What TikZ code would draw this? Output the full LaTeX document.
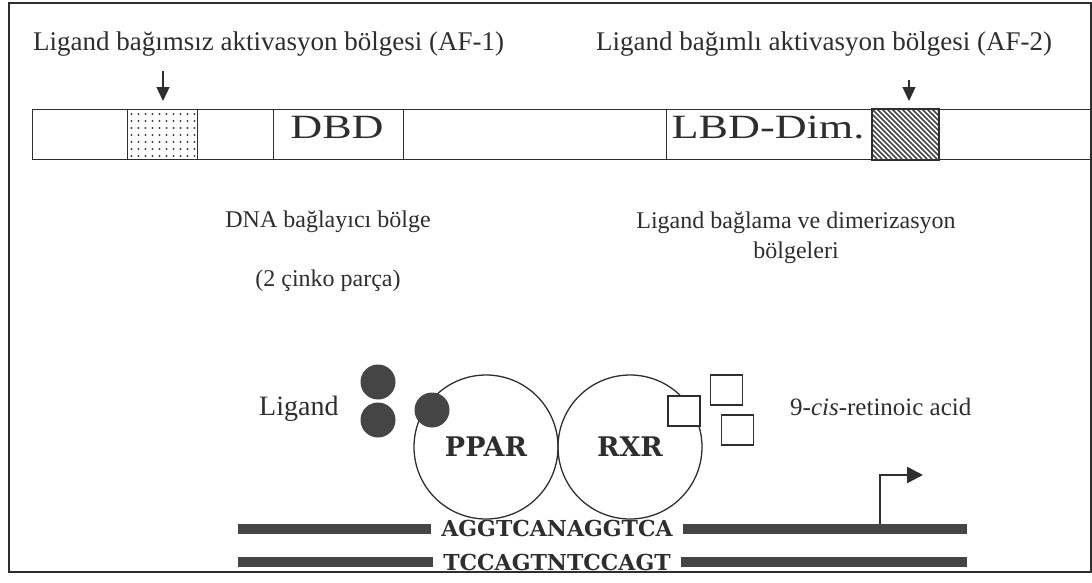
\documentclass[tikz,border=0pt]{standalone}
\usepackage{fontspec}
\setmainfont{Liberation Serif}
\newfontfamily\slab{DejaVu Serif}
\usepackage{graphicx}
\usetikzlibrary{arrows.meta}
\definecolor{ink}{HTML}{2E2E2E}
\definecolor{fillc}{HTML}{454545}
\begin{document}
\begin{tikzpicture}[x=1pt,y=-1pt,
  every node/.style={text=ink},
  toptext/.style={anchor=base west, inner sep=0pt, font=\fontsize{27}{30}\selectfont},
  midtext/.style={anchor=base, inner sep=0pt, font=\fontsize{24}{28}\selectfont},
  bigtext/.style={anchor=base, inner sep=0pt, font=\fontsize{34}{36}\selectfont},
  segbox/.style={draw=ink, line width=1.3pt, anchor=north west, inner sep=0pt, minimum height=50pt},
  downarrow/.style={draw=ink, line width=1.2pt, -{Triangle[length=14pt,width=13pt]}},
  ligdot/.style={circle, fill=fillc, inner sep=0pt, minimum size=35pt},
  receptor/.style={circle, draw=ink, line width=1.3pt, minimum size=144pt, inner sep=0pt, font=\slab\bfseries\fontsize{27}{28}\selectfont},
  rasq/.style={draw=ink, fill=white, line width=1.2pt, minimum width=32pt, minimum height=30pt, inner sep=0pt},
  seqtext/.style={inner xsep=10pt, inner ysep=0pt, font=\slab\bfseries\fontsize{22}{24}\selectfont},
  strand/.style={draw=fillc, line width=10pt}
]
\useasboundingbox (0,0) rectangle (1092,582);
% frame
\draw[ink, line width=2pt] (9,3) rectangle (1091,572);

% top labels
\node[toptext] (af1lab) at (33,50) {Ligand bağımsız aktivasyon bölgesi (AF-1)};
\node[toptext] (af2lab) at (596,50) {Ligand bağımlı aktivasyon bölgesi (AF-2)};

% domain bar
\node[segbox, minimum width=1058pt] (bar) at (32,109) {};
\node[segbox, minimum width=70pt] (af1) at (127,109) {};
\node[segbox, minimum width=130pt] (dbd) at (273,109) {};
\node[segbox, minimum width=206pt] (lbd) at (666,109) {};
\node[segbox, minimum width=66pt] (af2) at (872,109) {};

% dotted AF-1
\foreach \i in {0,...,9}
  \foreach \j in {0,...,6}
    \fill[fillc] (131.5+\i*7, 114+\j*7) circle (1.1pt);
% hatched AF-2
\begin{scope}
  \clip (872,109) rectangle (938,159);
  \foreach \k in {-60,-55,...,70}
    \draw[fillc, line width=1.5pt] (872+\k,109) -- (922+\k,159);
\end{scope}
\draw[ink, line width=1.3pt] (af2.north west) rectangle (af2.south east);

\node[bigtext] (dbdtxt) at (337,138) {\scalebox{1.3}[1]{DBD}};
\node[bigtext] (lbdtxt) at (768,138) {\scalebox{1.3}[1]{LBD-Dim.}};

% arrows
\coordinate (a1s) at (163,71);
\coordinate (a1e) at (163,101);
\coordinate (a2s) at (909,80);
\coordinate (a2e) at (909,101);
\draw[downarrow] (a1s) -- (a1e);
\draw[downarrow] (a2s) -- (a2e);

% middle labels
\node[midtext] (dnalab) at (328,227) {DNA bağlayıcı bölge};
\node[midtext] (znlab) at (328,286) {(2 çinko parça)};
\node[midtext] (lbdlab1) at (796,228) {Ligand bağlama ve dimerizasyon};
\node[midtext] (lbdlab2) at (796,258) {bölgeleri};

% receptors
\node[receptor] (ppar) at (486,447) {PPAR};
\node[receptor] (rxr) at (630,447) {RXR};

% ligands
\node[anchor=base west, inner sep=0pt, font=\fontsize{28}{30}\selectfont] (liglab) at (259,415) {Ligand};
\node[ligdot] (l1) at (378,382) {};
\node[ligdot] (l2) at (378,420) {};
\node[ligdot] (l3) at (432,410) {};

% retinoic acid
\node[rasq] (r1) at (684,411) {};
\node[rasq] (r2) at (726.5,390) {};
\node[rasq] (r3) at (737.5,430) {};
\node[anchor=base west, inner sep=0pt, font=\fontsize{25}{28}\selectfont] (ralab) at (790,415) {9-\textit{cis}-retinoic acid};

% DNA
\node[seqtext] (seq1) at (557,528) {AGGTCANAGGTCA};
\node[seqtext] (seq2) at (557,562) {TCCAGTNTCCAGT};
\coordinate (s1a) at (238,529);
\coordinate (s1b) at (967,529);
\coordinate (s2a) at (238,562);
\coordinate (s2b) at (967,562);
\draw[strand] (s1a) -- (s1a -| seq1.west);
\draw[strand] (s1a -| seq1.east) -- (s1b);
\draw[strand] (s2a) -- (s2a -| seq2.west);
\draw[strand] (s2a -| seq2.east) -- (s2b);

% promoter arrow
\coordinate (p0) at (880,524);
\coordinate (p1) at (880,475);
\coordinate (p2) at (923,475);
\draw[ink, line width=2.5pt, -{Triangle[length=16pt,width=16pt]}] (p0) -- (p1) -- (p2);
\end{tikzpicture}
\end{document}
